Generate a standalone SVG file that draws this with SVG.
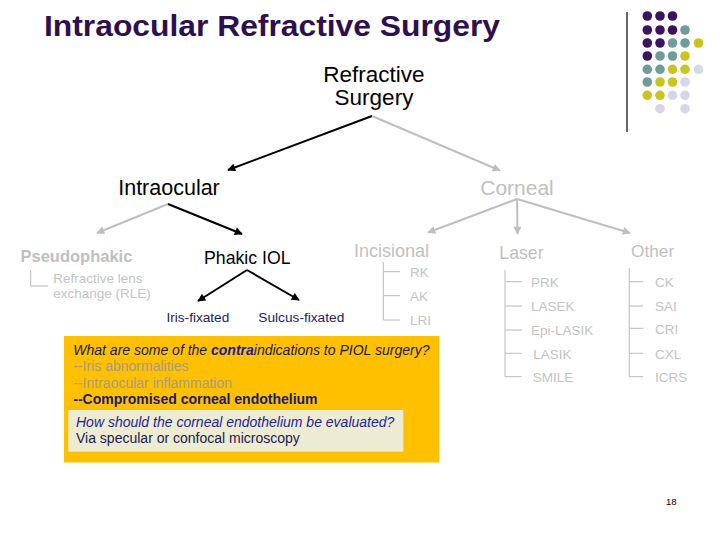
<svg xmlns="http://www.w3.org/2000/svg" width="720" height="540" viewBox="0 0 720 540">
<defs>
<marker id="ab" viewBox="0 0 10 10" refX="9" refY="5" markerWidth="10" markerHeight="8" markerUnits="userSpaceOnUse" orient="auto"><path d="M0,0 L10,5 L0,10 z" fill="#000"/></marker>
<marker id="ag" viewBox="0 0 10 10" refX="9" refY="5" markerWidth="10" markerHeight="8" markerUnits="userSpaceOnUse" orient="auto"><path d="M0,0 L10,5 L0,10 z" fill="#bfbfbf"/></marker>
<style>
text{font-family:"Liberation Sans",Arial,sans-serif}
.blk{stroke:#000;stroke-width:2;fill:none;marker-end:url(#ab)}
.gry{stroke:#bfbfbf;stroke-width:2;fill:none;marker-end:url(#ag)}
.tree{stroke:#bababa;stroke-width:1;fill:none}
.g{fill:#bfbfbf}
.sub{fill:#c4c4c4;font-size:13.5px}
.p{fill:#3b1361}.t{fill:#6f9b9b}.y{fill:#c9c420}.l{fill:#d6d6ea}
.box{font-size:14px}
</style>
</defs>
<rect width="720" height="540" fill="#fff"/>
<g id="title"><text x="44" y="36" font-size="29" font-weight="bold" fill="#2e0f50" textLength="456" lengthAdjust="spacingAndGlyphs">Intraocular Refractive Surgery</text></g>
<g id="decor">
<line x1="627" y1="12" x2="627" y2="132" stroke="#000" stroke-width="1.2"/>
<circle cx="647.3" cy="16" r="4.8" class="p"/><circle cx="660" cy="16" r="4.8" class="p"/><circle cx="672.5" cy="16" r="4.8" class="p"/>
<circle cx="647.3" cy="30" r="4.8" class="p"/><circle cx="660" cy="30" r="4.8" class="p"/><circle cx="672.5" cy="30" r="4.8" class="p"/><circle cx="685" cy="30" r="4.8" class="t"/>
<circle cx="647.3" cy="43" r="4.8" class="p"/><circle cx="660" cy="43" r="4.8" class="p"/><circle cx="672.5" cy="43" r="4.8" class="t"/><circle cx="685" cy="43" r="4.8" class="t"/><circle cx="698.5" cy="43" r="4.8" class="y"/>
<circle cx="647.3" cy="56" r="4.8" class="p"/><circle cx="660" cy="56" r="4.8" class="t"/><circle cx="672.5" cy="56" r="4.8" class="t"/><circle cx="685" cy="56" r="4.8" class="y"/>
<circle cx="647.3" cy="69.3" r="4.8" class="t"/><circle cx="660" cy="69.3" r="4.8" class="t"/><circle cx="672.5" cy="69.3" r="4.8" class="y"/><circle cx="685" cy="69.3" r="4.8" class="y"/><circle cx="698.5" cy="69.3" r="4.8" class="l"/>
<circle cx="647.3" cy="82" r="4.8" class="t"/><circle cx="660" cy="82" r="4.8" class="y"/><circle cx="672.5" cy="82" r="4.8" class="y"/><circle cx="685" cy="82" r="4.8" class="l"/>
<circle cx="647.3" cy="95.3" r="4.8" class="y"/><circle cx="660" cy="95.3" r="4.8" class="y"/><circle cx="672.5" cy="95.3" r="4.8" class="l"/><circle cx="685" cy="95.3" r="4.8" class="l"/>
<circle cx="660" cy="108.7" r="4.8" class="l"/><circle cx="685" cy="108.7" r="4.8" class="l"/>
</g>
<g id="connectors">
<line x1="372" y1="116" x2="228" y2="170" class="blk"/>
<line x1="372" y1="116" x2="500" y2="170.5" class="gry"/>
<line x1="168" y1="204" x2="97" y2="233" class="gry"/>
<line x1="168" y1="204" x2="242" y2="234" class="blk"/>
<line x1="517" y1="199" x2="428" y2="232.5" class="gry"/>
<line x1="517" y1="199" x2="517.5" y2="234" class="gry"/>
<line x1="517" y1="199" x2="630" y2="233" class="gry"/>
<line x1="247" y1="270" x2="198" y2="301" class="blk"/>
<line x1="247" y1="270" x2="299" y2="300" class="blk"/>
<path class="tree" d="M30.7,270 V286 H48.3"/>
<path class="tree" d="M383.3,262 V320 H400 M383.3,271.7 H400 M383.3,295.7 H400"/>
<path class="tree" d="M505,270 V376.7 H521.7 M505,281.7 H521.7 M505,306 H521.7 M505,330 H521.7 M505,353.3 H521.7"/>
<path class="tree" d="M629.3,268 V376.7 H643.3 M629.3,281.7 H643.3 M629.3,306 H643.3 M629.3,328.3 H643.3 M629.3,353.3 H643.3"/>
</g>
<g id="refractive-surgery"><text x="374" y="82" font-size="22.5" text-anchor="middle">Refractive</text><text x="374" y="105" font-size="22.5" text-anchor="middle">Surgery</text></g>
<g id="intraocular"><text x="169" y="195" font-size="21.5" text-anchor="middle">Intraocular</text></g>
<g id="corneal"><text x="517" y="195" font-size="21" text-anchor="middle" class="g">Corneal</text></g>
<g id="pseudophakic"><text x="20.5" y="262" font-size="16.5" font-weight="bold" class="g">Pseudophakic</text>
<text x="53.3" y="283.3" class="sub">Refractive lens</text><text x="53.3" y="298.3" class="sub">exchange (RLE)</text></g>
<g id="phakic-iol"><text x="204" y="264" font-size="17.7">Phakic IOL</text></g>
<g id="iris-fixated"><text x="166.5" y="321.7" font-size="13.6" fill="#1c1c5e">Iris-fixated</text></g>
<g id="sulcus-fixated"><text x="258.3" y="322" font-size="13.7" fill="#1c1c5e">Sulcus-fixated</text></g>
<g id="incisional"><text x="354" y="257.3" font-size="18" class="g">Incisional</text>
<text x="410" y="277" class="sub">RK</text><text x="410" y="301" class="sub">AK</text><text x="410" y="325" class="sub">LRI</text></g>
<g id="laser"><text x="499.3" y="258.5" font-size="17.7" class="g">Laser</text>
<text x="531" y="287" class="sub">PRK</text><text x="531" y="311" class="sub">LASEK</text><text x="531" y="335" class="sub">Epi-LASIK</text><text x="533.3" y="358.5" class="sub">LASIK</text><text x="532.7" y="382" class="sub">SMILE</text></g>
<g id="other"><text x="631" y="257.3" font-size="17.3" class="g">Other</text>
<text x="655" y="287" class="sub">CK</text><text x="655" y="311" class="sub">SAI</text><text x="655" y="333.5" class="sub">CRI</text><text x="655" y="358.5" class="sub">CXL</text><text x="655" y="382" class="sub">ICRS</text></g>
<g id="question-box">
<rect x="64" y="336" width="375.3" height="126.5" fill="#ffc000"/>
<text x="73.3" y="355" class="box" font-style="italic" fill="#1a1a40">What are some of the <tspan font-weight="bold" fill="#1c1ca0">contra</tspan>indications to PIOL surgery?</text>
<text x="73.3" y="370.5" class="box" fill="#a89a80">--Iris abnormalities</text>
<text x="73.3" y="387.5" class="box" fill="#a89a80">--Intraocular inflammation</text>
<text x="73.3" y="404" class="box" font-weight="bold" fill="#1a1a80">--Compromised corneal endothelium</text>
</g>
<g id="answer-box">
<rect x="68.3" y="410" width="335" height="41.7" fill="#edebd2"/>
<text x="76" y="427.3" class="box" font-style="italic" fill="#1f1f9a">How should the corneal endothelium be evaluated?</text>
<text x="76" y="443.3" class="box" fill="#1a1a50">Via specular or confocal microscopy</text>
</g>
<g id="page-number"><text x="666" y="505" font-size="9.5">18</text></g>
</svg>
